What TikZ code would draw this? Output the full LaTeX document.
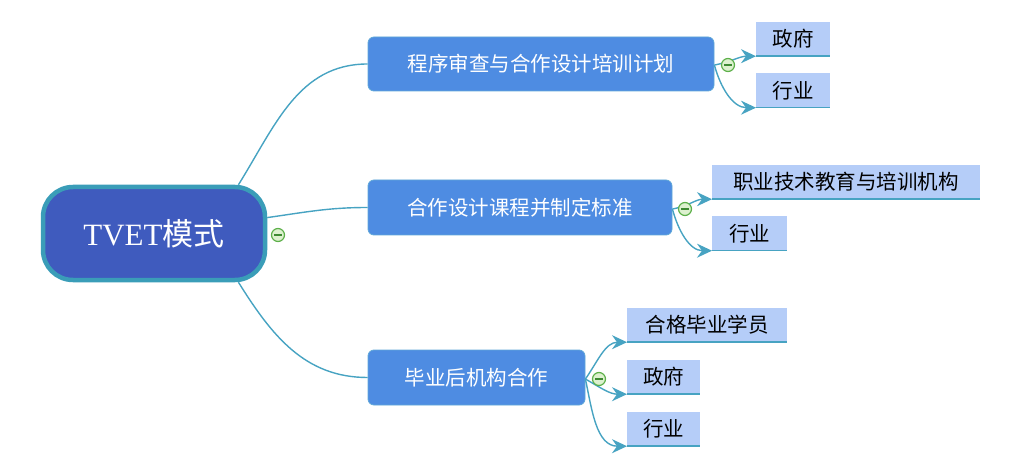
\documentclass[tikz,border=0pt]{standalone}
\usepackage{fontspec}
\setmainfont{Liberation Serif}
\newfontfamily\cjk{Noto Sans CJK SC}
\usetikzlibrary{arrows.meta}
\definecolor{rootfill}{HTML}{3F5BBE}
\definecolor{rootline}{HTML}{3A9DB8}
\definecolor{branchfill}{HTML}{4E8CE2}
\definecolor{branchline}{HTML}{5FA8D8}
\definecolor{leaffill}{HTML}{B5CDF8}
\definecolor{conn}{HTML}{47A3C2}
\definecolor{minusfill}{HTML}{DDF1CF}
\definecolor{minusline}{HTML}{5DB04A}
\definecolor{minusbar}{HTML}{3E8A33}
\tikzset{
  rootbox/.style={draw=rootline, line width=4.5pt, fill=rootfill, rounded corners=30pt,
    text=white, font=\fontsize{31}{36}\selectfont, inner sep=0pt},
  branchbox/.style={draw=branchline, line width=0.8pt, fill=branchfill, rounded corners=6pt,
    text=white, font=\cjk\fontsize{20.5}{24}\selectfont, inner sep=0pt},
  leafbox/.style={fill=leaffill, anchor=west, inner xsep=14pt, inner ysep=0pt,
    minimum height=34pt, text=black, font=\cjk\fontsize{20.5}{24}\selectfont},
  leafline/.style={draw=conn, line width=1.6pt},
  connector/.style={draw=conn, line width=1.4pt},
  arrowconn/.style={connector, -{Stealth[length=15pt,width=14pt,inset=5pt]}},
  minusmark/.style={circle, draw=minusline, fill=minusfill, line width=1.2pt,
    minimum size=13pt, inner sep=0pt,
    path picture={\draw[minusbar, line width=1.4pt]
      ([xshift=-3.6pt]path picture bounding box.center) --
      ([xshift=3.6pt]path picture bounding box.center);}}
}
\begin{document}
\begin{tikzpicture}[x=1pt,y=-1pt]
\useasboundingbox (0,0) rectangle (1014,470);
% root and branches
\node[rootbox, minimum width=222pt, minimum height=93pt] (root) at (154,233.5) {TVET{\cjk 模式}};
\node[branchbox, minimum width=346pt, minimum height=54pt] (b1) at (541,64) {程序审查与合作设计培训计划};
\node[branchbox, minimum width=304pt, minimum height=55pt] (b2) at (520,207.5) {合作设计课程并制定标准};
\node[branchbox, minimum width=217pt, minimum height=55pt] (b3) at (476.5,377.5) {毕业后机构合作};
% leaves
\node[leafbox, minimum width=74pt] (l11) at (756,39) {政府};
\node[leafbox, minimum width=74pt] (l12) at (756,90.5) {行业};
\node[leafbox, minimum width=268pt] (l21) at (712,182) {职业技术教育与培训机构};
\node[leafbox, minimum width=75pt] (l22) at (712,233.5) {行业};
\node[leafbox, minimum width=160pt] (l31) at (627,325) {合格毕业学员};
\node[leafbox, minimum width=73pt] (l32) at (627,377) {政府};
\node[leafbox, minimum width=73pt] (l33) at (627,429) {行业};
\foreach \l in {l11,l12,l21,l22,l31,l32,l33}
  \draw[leafline] (\l.south west) -- (\l.south east);
% minus positions
\coordinate (m0) at (278,235);
\coordinate (m1) at (728,65);
\coordinate (m2) at (685,209);
\coordinate (m3) at (599,379);
% root connectors
\draw[connector] (root.30) to[out=58,in=180] (b1.west);
\draw[connector] (root.8) to[out=8,in=180] (b2.west);
\draw[connector] (root.-30) to[out=-58,in=180] (b3.west);
% leaf connectors
\draw[arrowconn] (b1.east |- m1) to[out=10,in=180] (l11.south west);
\draw[arrowconn] (b1.east |- m1) to[out=-75,in=180] (l12.south west);
\draw[arrowconn] (b2.east |- m2) to[out=10,in=180] (l21.south west);
\draw[arrowconn] (b2.east |- m2) to[out=-75,in=180] (l22.south west);
\draw[arrowconn] (b3.east |- m3) to[out=55,in=180] (l31.south west);
\draw[arrowconn] (b3.east |- m3) to[out=-30,in=180] (l32.south west);
\draw[arrowconn] (b3.east |- m3) to[out=-78,in=180] (l33.south west);
% minus markers
\node[minusmark] (mm0) at (m0) {};
\node[minusmark] (mm1) at (m1) {};
\node[minusmark] (mm2) at (m2) {};
\node[minusmark] (mm3) at (m3) {};
\end{tikzpicture}
\end{document}
